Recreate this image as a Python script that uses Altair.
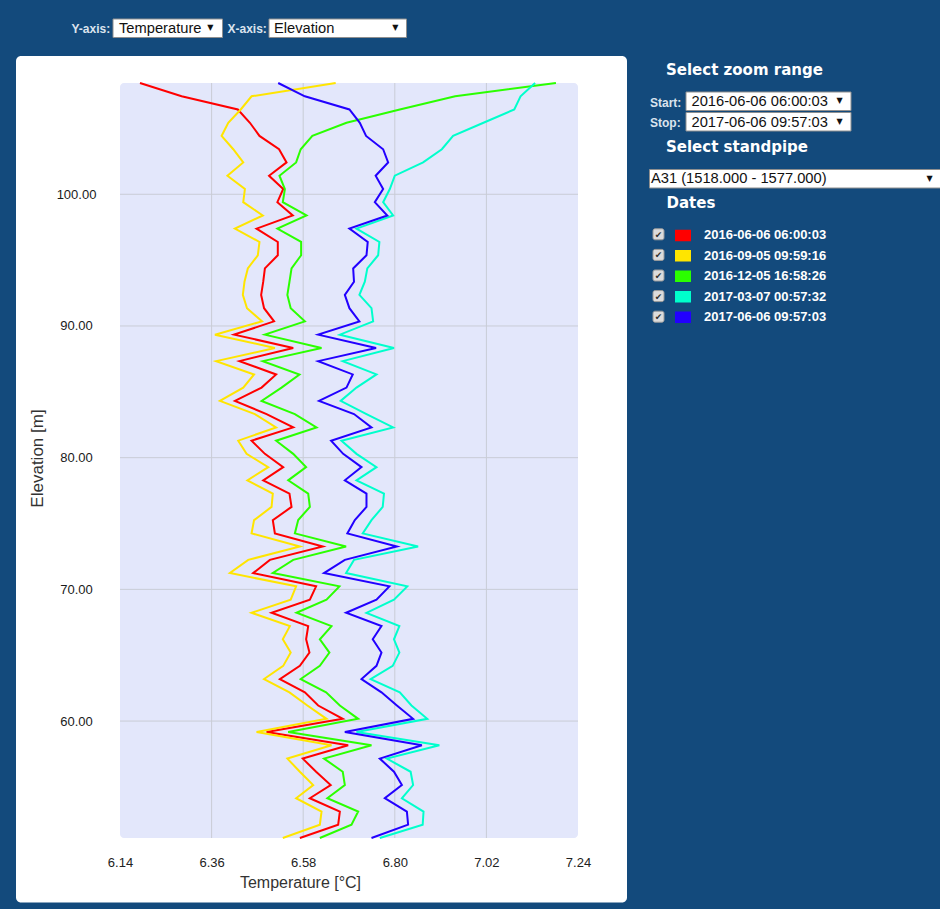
import altair as alt
import pandas as pd

# ---- data -------------------------------------------------------------
dates = [
    "2016-06-06 06:00:03",
    "2016-09-05 09:59:16",
    "2016-12-05 16:58:26",
    "2017-03-07 00:57:32",
    "2017-06-06 09:57:03",
]
line_colors = ["#ff0000", "#ffe500", "#2bff00", "#00ffcc", "#2200ff"]

elevation = [
    108.45, 107.44, 106.44, 105.43, 104.43, 103.42, 102.42, 101.41, 100.40, 99.40,
    98.39, 97.39, 96.38, 95.37, 94.37, 93.36, 92.36, 91.35, 90.35, 89.34,
    88.33, 87.33, 86.32, 85.32, 84.31, 83.31, 82.30, 81.29, 80.29, 79.28,
    78.28, 77.27, 76.26, 75.26, 74.25, 73.25, 72.24, 71.24, 70.23, 69.22,
    68.22, 67.21, 66.21, 65.20, 64.19, 63.19, 62.18, 61.18, 60.17, 59.17,
    58.16, 57.15, 56.15, 55.14, 54.14, 53.13, 52.13, 51.12,
]

temp_2016_06 = [
    6.188, 6.288, 6.423, 6.452, 6.475, 6.522, 6.540, 6.498, 6.532, 6.518,
    6.555, 6.468, 6.519, 6.519, 6.488, 6.484, 6.479, 6.486, 6.510, 6.414,
    6.556, 6.427, 6.515, 6.480, 6.416, 6.492, 6.556, 6.456, 6.488, 6.532,
    6.484, 6.547, 6.552, 6.507, 6.512, 6.627, 6.500, 6.460, 6.611, 6.596,
    6.504, 6.592, 6.587, 6.595, 6.572, 6.524, 6.584, 6.616, 6.675, 6.492,
    6.688, 6.579, 6.611, 6.646, 6.596, 6.668, 6.664, 6.572,
]
temp_2016_09 = [
    6.658, 6.456, 6.430, 6.400, 6.384, 6.412, 6.436, 6.398, 6.440, 6.436,
    6.483, 6.416, 6.475, 6.471, 6.447, 6.439, 6.435, 6.445, 6.481, 6.368,
    6.512, 6.371, 6.462, 6.436, 6.380, 6.464, 6.515, 6.424, 6.444, 6.496,
    6.446, 6.507, 6.504, 6.462, 6.456, 6.572, 6.448, 6.404, 6.563, 6.550,
    6.456, 6.548, 6.531, 6.550, 6.532, 6.486, 6.547, 6.590, 6.636, 6.468,
    6.648, 6.542, 6.572, 6.604, 6.563, 6.624, 6.620, 6.531,
]
temp_2016_12 = [
    7.187, 6.945, 6.812, 6.684, 6.602, 6.574, 6.563, 6.523, 6.536, 6.531,
    6.588, 6.518, 6.575, 6.575, 6.552, 6.547, 6.542, 6.550, 6.584, 6.488,
    6.624, 6.483, 6.571, 6.528, 6.480, 6.560, 6.612, 6.515, 6.556, 6.587,
    6.544, 6.592, 6.596, 6.568, 6.560, 6.683, 6.556, 6.507, 6.667, 6.636,
    6.564, 6.648, 6.620, 6.643, 6.620, 6.574, 6.635, 6.668, 6.712, 6.544,
    6.744, 6.630, 6.675, 6.680, 6.638, 6.712, 6.696, 6.620,
]
temp_2017_03 = [
    7.137, 7.102, 7.087, 7.013, 6.940, 6.913, 6.868, 6.800, 6.788, 6.772,
    6.796, 6.708, 6.763, 6.760, 6.734, 6.728, 6.715, 6.744, 6.748, 6.668,
    6.798, 6.675, 6.756, 6.708, 6.670, 6.732, 6.796, 6.672, 6.708, 6.756,
    6.708, 6.774, 6.771, 6.744, 6.723, 6.856, 6.702, 6.683, 6.830, 6.798,
    6.732, 6.811, 6.798, 6.811, 6.795, 6.742, 6.812, 6.840, 6.878, 6.708,
    6.907, 6.781, 6.838, 6.844, 6.817, 6.869, 6.867, 6.764,
]
temp_2017_06 = [
    6.520, 6.584, 6.691, 6.716, 6.731, 6.772, 6.784, 6.754, 6.772, 6.752,
    6.782, 6.691, 6.735, 6.732, 6.700, 6.702, 6.680, 6.691, 6.715, 6.616,
    6.755, 6.616, 6.699, 6.684, 6.618, 6.702, 6.744, 6.647, 6.676, 6.720,
    6.680, 6.732, 6.732, 6.704, 6.686, 6.805, 6.680, 6.630, 6.787, 6.756,
    6.683, 6.768, 6.747, 6.768, 6.756, 6.720, 6.768, 6.805, 6.844, 6.680,
    6.865, 6.764, 6.798, 6.817, 6.776, 6.829, 6.832, 6.744,
]

temp_ticks = [6.14, 6.36, 6.58, 6.80, 7.02, 7.24]
temp_grid = [6.36, 6.58, 6.80, 7.02]
elev_ticks = [60, 70, 80, 90, 100]

series = [temp_2016_06, temp_2016_09, temp_2016_12, temp_2017_03, temp_2017_06]
rows = []
for d, temps in zip(dates, series):
    for i, (e, t) in enumerate(zip(elevation, temps)):
        rows.append({"Date": d, "idx": i, "Elevation": e, "Temperature": t})
profiles = pd.DataFrame(rows)
vgrid = pd.DataFrame({"Temperature": temp_grid})
hgrid = pd.DataFrame({"Elevation": elev_ticks})
one = pd.DataFrame({"k": [0]})

# ---- page geometry ------------------------------------------------------
W, H = 458, 755          # plot area
OX, OY = 120, 83         # plot origin on the page
PAGE_W, PAGE_H = 940, 909
NAVY = "#134a7c"
SANS = "Liberation Sans"
HEAD = "DejaVu Sans"


def px(x):
    return x - OX


def py(y):
    return y - OY


# ---- shared encodings ---------------------------------------------------
x_scale = alt.Scale(domain=[6.14, 7.24], nice=False, zero=False)
y_scale = alt.Scale(domain=[min(elevation), max(elevation)], nice=False, zero=False)
date_scale = alt.Scale(domain=dates, range=line_colors)

x_axis = alt.Axis(
    values=temp_ticks, format=".2f", grid=False, domain=False, ticks=False, tickSize=0,
    labelFont=SANS, labelFontSize=13, labelColor="#222222", labelPadding=18,
    labelBaseline="top", labelFlush=False, labelOverlap=False,
    title="Temperature [°C]", titleFont=SANS, titleFontSize=16, titleFontWeight="normal",
    titleColor="#333333", titleX=180, titleY=44, titleAlign="center", titleBaseline="middle",
    zindex=1,
)
y_axis = alt.Axis(
    values=elev_ticks, format=".2f", grid=False, domain=False, ticks=False, tickSize=0,
    labelFont=SANS, labelFontSize=13, labelColor="#1a1a1a", labelPadding=44,
    labelAlign="center", labelFlush=False, labelOverlap=False,
    title="Elevation [m]", titleFont=SANS, titleFontSize=17, titleFontWeight="normal",
    titleColor="#333333", titleX=-74, titleY=375, titleAlign="center",
    titleBaseline="bottom", titleAngle=-90,
    zindex=1,
)
x_enc = alt.X("Temperature:Q", scale=x_scale, axis=x_axis)
y_enc = alt.Y("Elevation:Q", scale=y_scale, axis=y_axis)

# legend swatch: a 16x11 block built from closely spaced horizontal strokes
SWATCH = "".join(f"M-1,{v / 8:.3f}H1" for v in range(-5, 6))

# ---- decoration helpers -------------------------------------------------
def box(x1, x2, y1, y2, fill="white", stroke="#8f8f8f", radius=0, sw=1):
    return alt.Chart(one).mark_rect(
        fill=fill, stroke=stroke, strokeWidth=sw, cornerRadius=radius
    ).encode(
        x=alt.value(px(x1)), x2=alt.value(px(x2)),
        y=alt.value(py(y1)), y2=alt.value(py(y2)),
    )


def label(text, x, y, size, weight="normal", color="#111111", font=SANS,
          align="left", baseline="alphabetic"):
    return alt.Chart(one).mark_text(
        text=text, font=font, fontSize=size, fontWeight=weight, color=color,
        align=align, baseline=baseline,
    ).encode(x=alt.value(px(x)), y=alt.value(py(y)))


def arrow(x, y):
    return label("▼", x, y, 8, color="#111111", font=HEAD, align="center", baseline="middle")


layers = []

# white card behind the plot and the light plot background
layers.append(box(16, 627, 56, 902.5, stroke="white", radius=5, sw=0))
layers.append(box(120, 578, 83, 838, fill="#e3e7fb", stroke="#e3e7fb", radius=4, sw=0))

# grid lines
layers.append(alt.Chart(vgrid).mark_rule(color="#c9ccd6", strokeWidth=1).encode(x=x_enc))
layers.append(alt.Chart(hgrid).mark_rule(color="#c9ccd6", strokeWidth=1).encode(y=y_enc))

# temperature profiles
lines = alt.Chart(profiles).mark_line(strokeWidth=2).encode(
    x=x_enc,
    y=y_enc,
    order=alt.Order("idx:Q"),
    color=alt.Color(
        "Date:N",
        scale=date_scale,
        legend=alt.Legend(
            orient="none", legendX=554, legendY=143.4, title=None,
            symbolType=SWATCH, symbolSize=256, symbolStrokeWidth=1.5,
            symbolOpacity=1, labelFont=SANS, labelFontSize=13,
            labelFontWeight="bold", labelColor="#ffffff", labelOffset=12,
            rowPadding=3.45, padding=0, offset=0,
        ),
    ),
)
layers.append(lines)

# top selectors
layers.append(label("Y-axis:", 71.5, 33, 12, "bold", "#dbe4ee"))
layers.append(box(113, 222.5, 19, 37.5))
layers.append(label("Temperature", 119, 33.3, 14.7))
layers.append(arrow(210.3, 28))
layers.append(label("X-axis:", 227.5, 33, 12, "bold", "#dbe4ee"))
layers.append(box(269, 406.5, 19, 37.5))
layers.append(label("Elevation", 274, 33.3, 14.7))
layers.append(arrow(395.3, 28))

# side panel
layers.append(label("Select zoom range", 666, 74.8, 15, "bold", "#ffffff", HEAD))
layers.append(label("Start:", 650, 106.5, 12, "bold", "#dbe4ee"))
layers.append(box(686, 851, 92, 110.5))
layers.append(label(dates[0], 691.5, 106.3, 14.7))
layers.append(arrow(839.7, 101))
layers.append(label("Stop:", 650, 127, 12, "bold", "#dbe4ee"))
layers.append(box(686, 851, 112.5, 131))
layers.append(label(dates[-1], 691.5, 126.8, 14.7))
layers.append(arrow(839.7, 121.5))
layers.append(label("Select standpipe", 666, 151.5, 15, "bold", "#ffffff", HEAD))
layers.append(box(649.5, 946, 169.5, 188))
layers.append(label("A31 (1518.000 - 1577.000)", 651, 182.8, 14.7))
layers.append(arrow(929.5, 179))
layers.append(label("Dates", 666.5, 208, 15, "bold", "#ffffff", HEAD))

# checkboxes beside the date entries
for k, _ in enumerate(dates):
    cy = 234.3 + k * 20.6
    layers.append(box(653, 664, cy - 5.5, cy + 5.5, fill="#dcdcdc", stroke="#9a9a9a", radius=2))
    layers.append(label("✔", 658.5, cy + 0.5, 9, color="#333333", font=HEAD,
                        align="center", baseline="middle"))

chart = alt.layer(*layers).properties(
    width=W,
    height=H,
    autosize=alt.AutoSizeParams(type="none"),
    padding={"left": OX, "top": OY, "right": PAGE_W - OX - W, "bottom": PAGE_H - OY - H},
    background=NAVY,
).configure_view(strokeOpacity=0)

chart.save("out.html", embed_options={"renderer": "svg", "actions": False})
